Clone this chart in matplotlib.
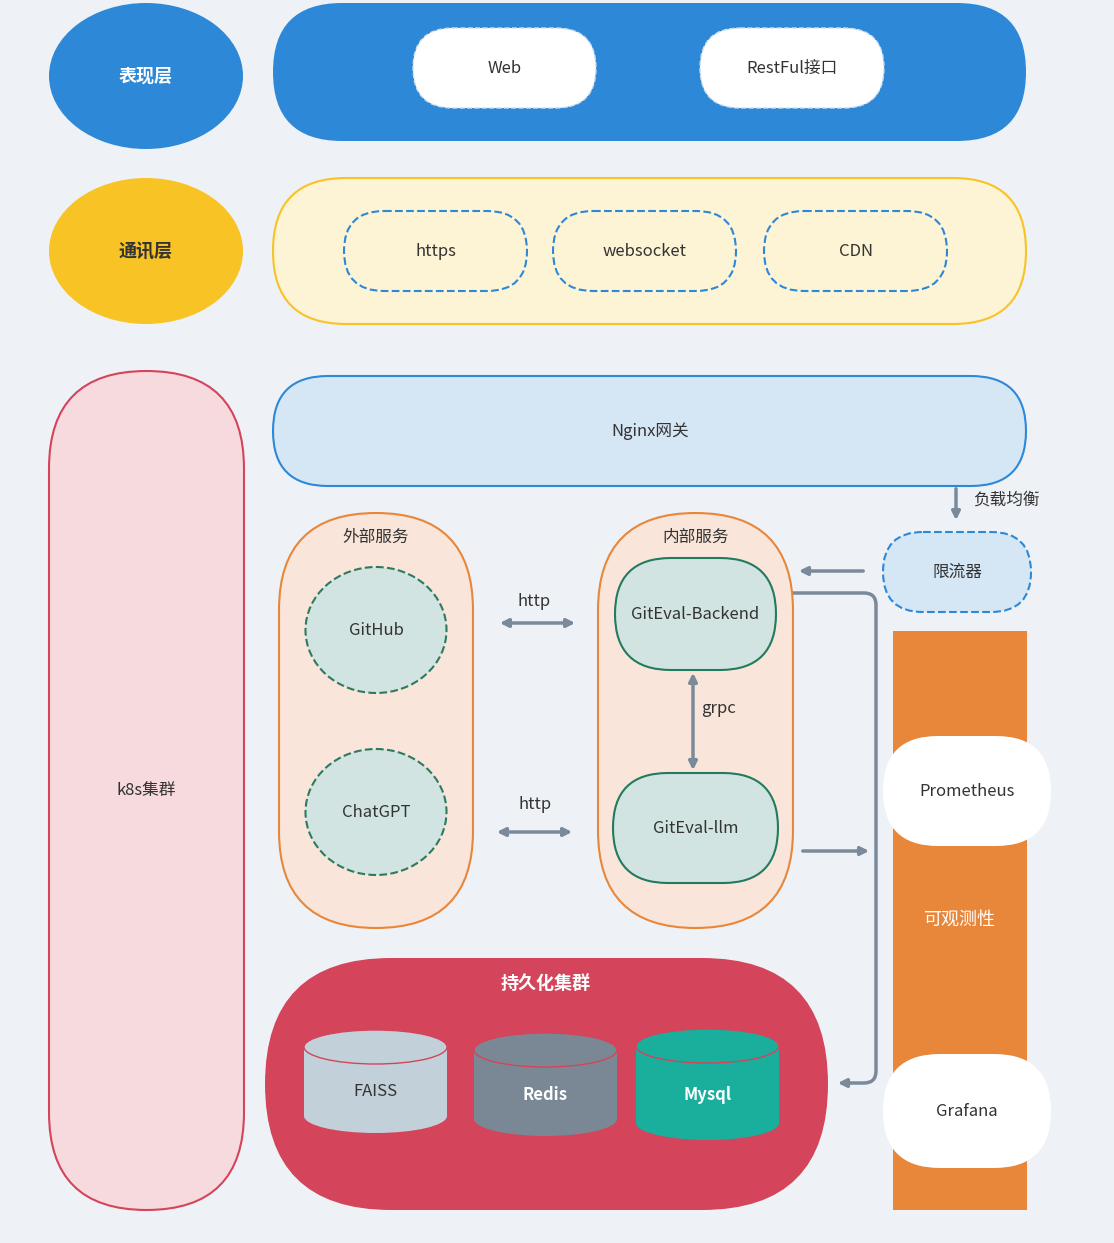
import matplotlib
matplotlib.use("Agg")
import matplotlib.pyplot as plt
from matplotlib.patches import FancyBboxPatch, Ellipse, Rectangle, FancyArrowPatch
from matplotlib.path import Path
from matplotlib.patches import PathPatch

plt.rcParams['font.family'] = ['Noto Sans CJK SC', 'DejaVu Sans']

BLUE = '#2d88d8'
YELLOW = '#f8c324'
ORANGE = '#e8863a'
RED = '#d4445a'
GREEN = '#2d7a5f'
GRAY = '#7a8a9a'

layer_labels = ['表现层', '通讯层']
present_items = ['Web', 'RestFul接口']
comm_items = ['https', 'websocket', 'CDN']
external_items = ['GitHub', 'ChatGPT']
internal_items = ['GitEval-Backend', 'GitEval-llm']
observe_items = ['Prometheus', 'Grafana']
store_items = ['FAISS', 'Redis', 'Mysql']
store_colors = ['#c2d0da', '#7a8896', '#1aae9d']
store_text = ['#333333', 'white', 'white']

fig = plt.figure(figsize=(11.14, 12.43), dpi=100)
ax = fig.add_axes([0, 0, 1, 1])
fig.patch.set_facecolor('#eef2f6')
ax.set_facecolor('#eef2f6')
ax.set_xlim(0, 1114)
ax.set_ylim(1243, 0)
ax.axis('off')


def pill(x0, y0, x1, y1, fc, ec='none', ls='-', lw=1.5, r=None, z=1):
    w, h = x1 - x0, y1 - y0
    if r is None:
        r = min(w, h) / 2
    p = FancyBboxPatch((x0, y0), w, h, boxstyle=f"round,pad=0,rounding_size={r}",
                       fc=fc, ec=ec, ls=ls, lw=lw, zorder=z)
    ax.add_patch(p)


def txt(x, y, s, c='#333333', size=12, bold=False):
    ax.text(x, y, s, ha='center', va='center', color=c, fontsize=size,
            fontweight='bold' if bold else 'normal', zorder=10)


def arrow(p0, p1, both=False):
    a = FancyArrowPatch(p0, p1, arrowstyle='<|-|>' if both else '-|>',
                        mutation_scale=12, color=GRAY, lw=2.5, zorder=5)
    ax.add_patch(a)


# 表现层
ax.add_patch(Ellipse((146, 76), 194, 146, fc=BLUE, zorder=1))
txt(146, 76, layer_labels[0], 'white', 13, True)
pill(273, 3, 1026, 141, BLUE)
for (x0, x1), s in zip([(413, 596), (700, 884)], present_items):
    pill(x0, 28, x1, 108, 'white', '#cfe0f0', '--', 1)
    txt((x0 + x1) / 2, 68, s)

# 通讯层
ax.add_patch(Ellipse((146, 251), 194, 146, fc=YELLOW, zorder=1))
txt(146, 251, layer_labels[1], '#333333', 13, True)
pill(273, 178, 1026, 324, '#fdf3d5', YELLOW)
for (x0, x1), s in zip([(344, 527), (553, 736), (764, 947)], comm_items):
    pill(x0, 211, x1, 291, 'none', BLUE, '--', 1.5)
    txt((x0 + x1) / 2, 251, s)

# k8s
pill(49, 371, 244, 1210, '#f7dade', RED)
txt(146, 790, 'k8s集群')

# Nginx
pill(273, 376, 1026, 486, '#d5e6f5', BLUE)
txt(650, 431, 'Nginx网关')
arrow((956, 486), (956, 523))
txt(1006, 500, '负载均衡')
pill(883, 532, 1031, 612, '#d5e6f5', BLUE, '--')
txt(957, 572, '限流器')
arrow((866, 571), (796, 571))

# 外部服务
pill(279, 513, 473, 928, '#f9e5d9', ORANGE)
txt(376, 537, '外部服务')
for cy, s in zip([630, 812], external_items):
    ax.add_patch(Ellipse((376, cy), 141, 126, fc='#d1e4e1', ec=GREEN, ls='--', lw=1.5, zorder=2))
    txt(376, cy, s)
arrow((497, 623), (578, 623), True)
txt(534, 601, 'http')
arrow((494, 832), (575, 832), True)
txt(535, 804, 'http')

# 内部服务
pill(598, 513, 793, 928, '#f9e5d9', ORANGE)
txt(696, 537, '内部服务')
for (x0, y0, x1, y1), s in zip([(615, 558, 776, 670), (613, 773, 778, 883)], internal_items):
    pill(x0, y0, x1, y1, '#d1e4e1', '#237a5f', z=2)
    txt((x0 + x1) / 2, (y0 + y1) / 2, s)
arrow((693, 670), (693, 773), True)
txt(719, 708, 'grpc')

# route to persistence
verts = [(793, 593), (864, 593), (876, 593), (876, 605), (876, 1071), (876, 1083), (864, 1083), (850, 1083)]
codes = [Path.MOVETO, Path.LINETO, Path.CURVE3, Path.CURVE3, Path.LINETO, Path.CURVE3, Path.CURVE3, Path.LINETO]
ax.add_patch(PathPatch(Path(verts, codes), fc='none', ec=GRAY, lw=2.5, zorder=5))
arrow((852, 1083), (835, 1083))
arrow((800, 851), (872, 851))

# 可观测性
ax.add_patch(Rectangle((893, 631), 134, 579, fc=ORANGE, zorder=1))
txt(960, 920, '可观测性', 'white', 13)
for (y0, y1), s in zip([(736, 846), (1054, 1168)], observe_items):
    pill(883, y0, 1051, y1, 'white', z=2)
    txt(967, (y0 + y1) / 2, s)

# 持久化集群
pill(265, 958, 828, 1210, RED)
txt(546, 983, '持久化集群', 'white', 13, True)
cyl = [(304, 447, 1047, 1116), (474, 617, 1050, 1119), (636, 779, 1046, 1123)]
for (x0, x1, yt, yb), s, fc, tc in zip(cyl, store_items, store_colors, store_text):
    w = x1 - x0
    cx = (x0 + x1) / 2
    ax.add_patch(Ellipse((cx, yb), w, 34, fc=fc, ec='none', zorder=2))
    ax.add_patch(Rectangle((x0, yt), w, yb - yt, fc=fc, ec='none', zorder=2))
    ax.add_patch(Ellipse((cx, yt), w, 34, fc=fc, ec=RED, lw=1, zorder=3))
    txt(cx, (yt + yb) / 2 + 10, s, tc, 12, tc == 'white')

fig.savefig('out.png', dpi=100, facecolor=fig.get_facecolor())
